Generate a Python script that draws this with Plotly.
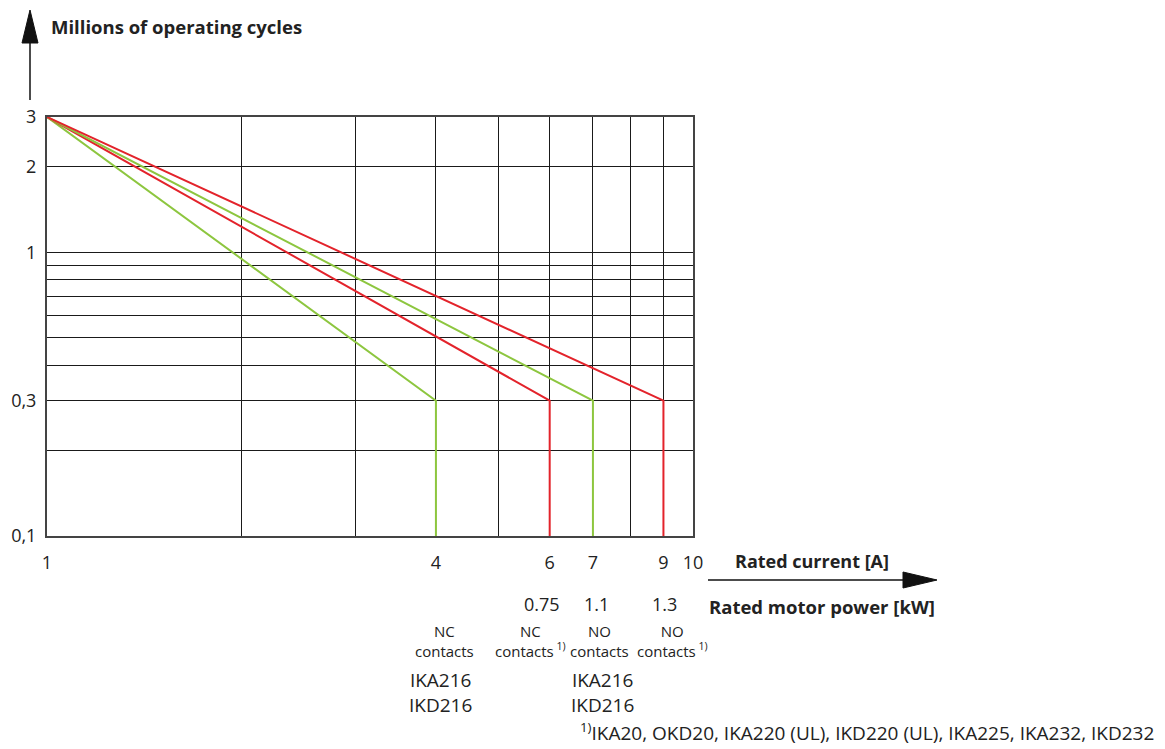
import math
import plotly.graph_objects as go

# ---- data ----
x_grid = [1, 2, 3, 4, 5, 6, 7, 8, 9, 10]
x_tickvals = [1, 4, 6, 7, 9, 10]
x_ticktext = ["1", "4", "6", "7", "9", "10"]
y_grid = [0.1, 0.2, 0.3, 0.4, 0.5, 0.6, 0.7, 0.8, 0.9, 1, 2, 3]
y_tickvals = [0.1, 0.3, 1, 2, 3]
y_ticktext = ["0,1", "0,3", "1", "2", "3"]

series_names = ["NC contacts IKA216/IKD216", "NC contacts 1)", "NO contacts IKA216/IKD216", "NO contacts 1)"]
series_colors = ["#8dc63f", "#e3232b", "#8dc63f", "#e3232b"]
series_x = [[1, 4, 4], [1, 6, 6], [1, 7, 7], [1, 9, 9]]
series_y = [[3, 0.3, 0.1], [3, 0.3, 0.1], [3, 0.3, 0.1], [3, 0.3, 0.1]]

power_currents = [6, 7, 9]
power_labels = ["0.75", "1.1", "1.3"]
power_shift = [-8, 4, 1]

contact_currents = [4, 6, 7, 9]
contact_labels = ["NC<br>contacts", "NC<br>contacts<sup> 1)</sup>", "NO<br>contacts", "NO<br>contacts<sup> 1)</sup>"]
contact_shift = [9, -19, 7, 9]

type_currents = [4, 7]
type_labels = ["IKA216<br>IKD216", "IKA216<br>IKD216"]
type_shift = [5, 10]

footnote = "<sup>1)</sup>IKA20, OKD20, IKA220 (UL), IKD220 (UL), IKA225, IKA232, IKD232"

FONT = "Open Sans"
TXT = "#222222"
GRID = "#1a1a1a"

fig = go.Figure()
for name, col, xs, ys in zip(series_names, series_colors, series_x, series_y):
    fig.add_trace(go.Scatter(x=xs, y=ys, mode="lines", name=name,
                             line=dict(color=col, width=2), cliponaxis=False,
                             showlegend=False))

# page pixel geometry of the plot area (body margin removed via post_script)
L, R, T, B = 47, 693, 117, 536
W, H = 1165, 749
pw, ph = R - L, B - T

def px_x(p):
    return (p - L) / pw

def px_y(p):
    return (B - p) / ph

fig.update_layout(
    width=W, height=H,
    margin=dict(l=L, r=W - R, t=T, b=H - B, pad=0),
    paper_bgcolor="white", plot_bgcolor="white",
    font=dict(family=FONT, color=TXT, size=18),
    xaxis=dict(type="log", range=[0, 1], tickvals=x_tickvals, ticktext=x_ticktext,
               showgrid=True, gridcolor=GRID, gridwidth=1.3,
               minor=dict(tickmode="array", tickvals=x_grid, showgrid=True,
                          gridcolor=GRID, gridwidth=1.3, ticks=""),
               showline=True, linecolor="#444444", linewidth=2, mirror=True,
               ticks="", zeroline=False, ticklabelstandoff=9, automargin=False,
               tickfont=dict(size=18, color=TXT)),
    yaxis=dict(type="log", range=[math.log10(0.1), math.log10(3)],
               tickvals=y_tickvals, ticktext=y_ticktext,
               showgrid=True, gridcolor=GRID, gridwidth=1.3,
               minor=dict(tickmode="array", tickvals=y_grid, showgrid=True,
                          gridcolor=GRID, gridwidth=1.3, ticks=""),
               showline=True, linecolor="#444444", linewidth=2, mirror=True,
               ticks="", zeroline=False, ticklabelstandoff=5, automargin=False,
               tickfont=dict(size=18, color=TXT)),
)

# y axis arrow
fig.add_shape(type="line", xref="paper", yref="paper",
              x0=px_x(30), x1=px_x(30), y0=px_y(100), y1=px_y(40),
              line=dict(color="#111111", width=1.5))
fig.add_shape(type="path", xref="paper", yref="paper",
              path=f"M {px_x(22)},{px_y(43)} L {px_x(30)},{px_y(10)} L {px_x(38)},{px_y(43)} Z",
              fillcolor="#111111", line=dict(color="#111111", width=1))
# x axis arrow
fig.add_shape(type="line", xref="paper", yref="paper",
              x0=px_x(708), x1=px_x(905), y0=px_y(580), y1=px_y(580),
              line=dict(color="#111111", width=1.5))
fig.add_shape(type="path", xref="paper", yref="paper",
              path=f"M {px_x(903)},{px_y(572)} L {px_x(937)},{px_y(580)} L {px_x(903)},{px_y(588)} Z",
              fillcolor="#111111", line=dict(color="#111111", width=1))

ann = []
ann.append(dict(text="<b>Millions of operating cycles</b>", xref="paper", yref="paper",
                x=px_x(49), y=px_y(27), xanchor="left", yanchor="middle",
                showarrow=False, font=dict(size=18.5, color=TXT)))
ann.append(dict(text="<b>Rated current [A]</b>", xref="paper", yref="paper",
                x=px_x(733), y=px_y(561), xanchor="left", yanchor="middle",
                showarrow=False, font=dict(size=18, color=TXT)))
ann.append(dict(text="<b>Rated motor power [kW]</b>", xref="paper", yref="paper",
                x=px_x(707), y=px_y(606), xanchor="left", yanchor="middle",
                showarrow=False, font=dict(size=18.5, color=TXT)))
for c, lab, s in zip(power_currents, power_labels, power_shift):
    ann.append(dict(text=lab, xref="x", yref="paper", x=math.log10(c), xshift=s,
                    y=px_y(604), yanchor="middle", showarrow=False,
                    font=dict(size=18, color=TXT)))
for c, lab, s in zip(contact_currents, contact_labels, contact_shift):
    ann.append(dict(text=lab, xref="x", yref="paper", x=math.log10(c), xshift=s,
                    y=px_y(641), yanchor="middle", showarrow=False,
                    font=dict(size=15, color=TXT)))
for c, lab, s in zip(type_currents, type_labels, type_shift):
    ann.append(dict(text=lab, xref="x", yref="paper", x=math.log10(c), xshift=s,
                    y=px_y(692), yanchor="middle", showarrow=False,
                    font=dict(size=19, color=TXT)))
ann.append(dict(text=footnote, xref="paper", yref="paper",
                x=px_x(1156), y=px_y(732), xanchor="right", yanchor="middle",
                showarrow=False, font=dict(size=19, color=TXT)))
fig.update_layout(annotations=ann)

fig.write_html("out.html", config={"displayModeBar": False},
               post_script="document.body.style.margin='0';document.body.style.overflow='hidden';")
